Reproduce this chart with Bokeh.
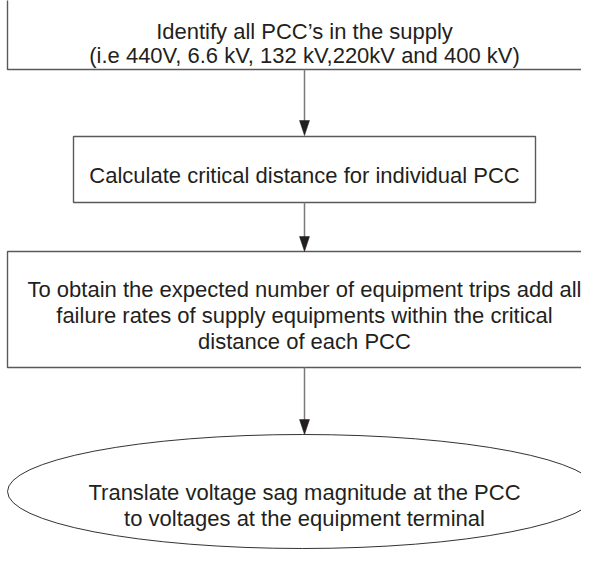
from bokeh.plotting import figure
from bokeh.models import Range1d
from bokeh.core.properties import value
from bokeh.embed import file_html
from bokeh.resources import INLINE

# ---- content ----
box_texts = [
    ["Identify all PCC\u2019s in the supply",
     "(i.e 440V, 6.6 kV, 132 kV,220kV and 400 kV)"],
    ["Calculate critical distance for individual PCC"],
    ["To obtain the expected number of equipment trips add all",
     "failure rates of supply equipments within the critical",
     "distance of each PCC"],
    ["Translate voltage sag magnitude at the PCC",
     "to voltages at the equipment terminal"],
]

# ---- layout (pixel positions) ----
CX = 304
box_left = [7, 73, 7]
box_right = [601, 535, 601]
box_top = [-10, 136, 251]
box_bottom = [69, 202, 367]
ell_cx, ell_cy, ell_w, ell_h = 302, 491, 590, 114
text_baselines = [[31, 55], [175], [289, 315, 341], [492, 518]]
arrow_start = [69, 202, 367]
arrow_end = [135, 251, 434]

W, H = 581, 549
p = figure(width=W, height=H, output_backend="svg", toolbar_location=None,
           x_range=Range1d(0, W), y_range=Range1d(H, 0),
           min_border=0, outline_line_color=None)
p.axis.visible = False
p.grid.visible = False
p.background_fill_color = "white"
p.border_fill_color = "white"

box_col = "#5a5a5a"
p.quad(left=box_left, right=box_right, top=box_top, bottom=box_bottom,
       fill_color=None, line_color=box_col, line_width=1.4)
p.ellipse(x=[ell_cx], y=[ell_cy], width=[ell_w], height=[ell_h],
          fill_color=None, line_color="#333333", line_width=1.0)

# arrows
p.segment(x0=[CX] * 3, y0=arrow_start, x1=[CX] * 3, y1=[e - 12 for e in arrow_end],
          line_color="#7a7a7a", line_width=1.5)
xs = [[CX - 5, CX + 5, CX] for _ in arrow_end]
ys = [[e - 15, e - 15, e] for e in arrow_end]
p.patches(xs=xs, ys=ys, fill_color="#231f20", line_color="#231f20", line_width=0.5)

# texts
tx, ty, tt = [], [], []
for lines, bls in zip(box_texts, text_baselines):
    for s, b in zip(lines, bls):
        tx.append(CX)
        ty.append(b)
        tt.append(s)
p.text(x=tx, y=ty, text=tt, text_align="center", text_baseline="alphabetic",
       text_font=value("Liberation Sans"), text_font_size="22px",
       text_color="#231f20")

open("out.html", "w").write(file_html(p, INLINE))
